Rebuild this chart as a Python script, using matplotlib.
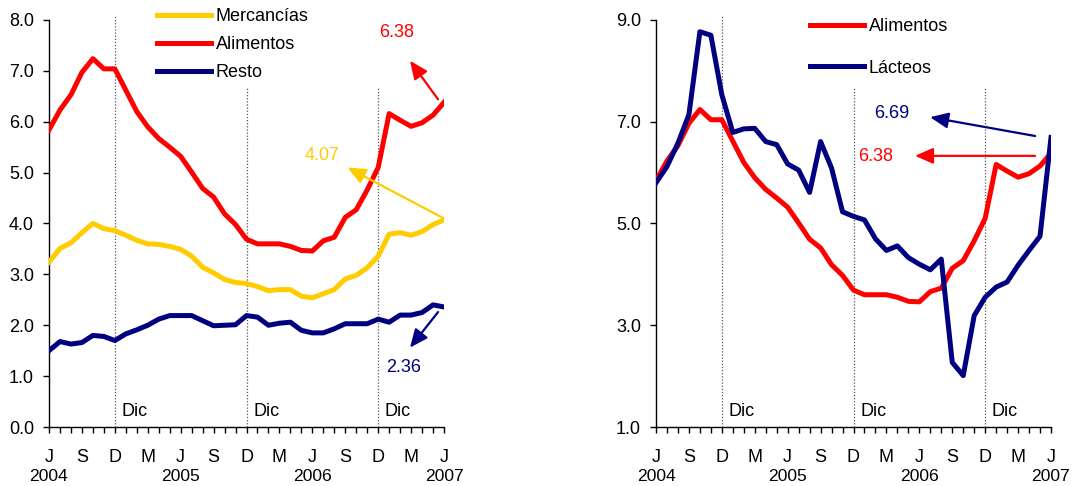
import numpy as np
import matplotlib
matplotlib.use("Agg")
import matplotlib.pyplot as plt
import matplotlib.transforms as mtransforms
from matplotlib.lines import Line2D
from matplotlib.ticker import FormatStrFormatter

plt.rcParams['font.family'] = ['Liberation Sans', 'DejaVu Sans']

# Monthly year-on-year inflation, June 2004 - June 2007
mercancias = [3.24, 3.51, 3.62, 3.82, 4.00, 3.90, 3.86, 3.77, 3.67, 3.60,
              3.59, 3.55, 3.49, 3.36, 3.14, 3.03, 2.90, 2.84, 2.82, 2.76,
              2.68, 2.70, 2.70, 2.57, 2.54, 2.62, 2.70, 2.91, 2.98, 3.13,
              3.36, 3.79, 3.82, 3.77, 3.84, 3.98, 4.07]
alimentos = [5.84, 6.23, 6.53, 6.97, 7.24, 7.04, 7.04, 6.62, 6.20, 5.90,
             5.67, 5.50, 5.32, 5.01, 4.69, 4.52, 4.19, 3.98, 3.69, 3.60,
             3.60, 3.60, 3.55, 3.47, 3.46, 3.66, 3.73, 4.12, 4.27, 4.66,
             5.10, 6.16, 6.03, 5.91, 5.98, 6.13, 6.38]
resto = [1.50, 1.68, 1.63, 1.66, 1.80, 1.78, 1.70, 1.83, 1.91, 2.00,
         2.12, 2.19, 2.19, 2.19, 2.09, 1.99, 2.00, 2.01, 2.19, 2.16,
         2.00, 2.04, 2.06, 1.90, 1.85, 1.85, 1.93, 2.03, 2.03, 2.03,
         2.12, 2.06, 2.20, 2.20, 2.25, 2.40, 2.36]
lacteos = [5.80, 6.12, 6.58, 7.14, 8.77, 8.70, 7.53, 6.79, 6.86, 6.87,
           6.61, 6.55, 6.17, 6.05, 5.61, 6.61, 6.09, 5.23, 5.14, 5.07,
           4.70, 4.47, 4.56, 4.33, 4.20, 4.09, 4.30, 2.27, 2.01, 3.19,
           3.55, 3.75, 3.85, 4.18, 4.47, 4.75, 6.69]

month_letters = ['J', 'S', 'D', 'M', 'J', 'S', 'D', 'M', 'J', 'S', 'D', 'M', 'J']
years = ['2004', '2005', '2006', '2007']
year_pos = [0, 12, 24, 36]
dec_pos = [6, 18, 30]
dec_label = 'Dic'

YELLOW = '#FFCC00'
RED = '#FF0000'
NAVY = '#000080'
FS = 13
LW = 3.6

months = np.arange(len(alimentos))

W, H = 1073, 486
fig = plt.figure(figsize=(W / 100, H / 100), dpi=100)
ax1 = fig.add_axes([49 / W, 59 / H, 395 / W, 407 / H])
ax2 = fig.add_axes([656 / W, 59 / H, 395 / W, 407 / H])


def setup(ax, ylim, yticks):
    ax.set_xlim(0, 36)
    ax.set_ylim(*ylim)
    for s in ['top', 'right']:
        ax.spines[s].set_visible(False)
    for s in ['left', 'bottom']:
        ax.spines[s].set_linewidth(1.0)
    ax.set_xticks(np.arange(0, 37, 3), month_letters)
    ax.set_xticks(months, minor=True)
    ax.set_yticks(yticks)
    ax.yaxis.set_major_formatter(FormatStrFormatter('%.1f'))
    ax.tick_params(axis='x', which='both', length=4, width=1, pad=12, labelsize=FS)
    ax.tick_params(axis='y', which='both', length=4.3, width=1, pad=6.5, labelsize=FS)
    trans = mtransforms.blended_transform_factory(ax.transData, ax.transAxes)
    for xp, yl in zip(year_pos, years):
        ax.text(xp, -0.122, yl, transform=trans, ha='center', va='center', fontsize=12.6)
    for i, xp in enumerate(dec_pos):
        top = 1.01 if i == 0 else 0.833
        ax.plot([xp, xp], [0, top], transform=trans, color='#555555', lw=0.9,
                ls=(0, (1, 1.5)), clip_on=False, zorder=1)
        ax.text(xp + 0.6, 0.037, dec_label, transform=trans, ha='left', va='center',
                fontsize=FS)


def arrow(ax, start, tip, color):
    ax.annotate('', xy=tip, xytext=start,
                arrowprops=dict(arrowstyle='-|>,head_length=0.55,head_width=0.24',
                                color=color, lw=1.6, mutation_scale=20,
                                shrinkA=0, shrinkB=0), annotation_clip=False)


# Left panel
setup(ax1, (0, 8), np.arange(0, 8.1, 1.0))
ax1.plot(months, mercancias, color=YELLOW, lw=LW, zorder=3)
ax1.plot(months, alimentos, color=RED, lw=LW, zorder=3)
ax1.plot(months, resto, color=NAVY, lw=LW, zorder=3)

arrow(ax1, (35.46, 6.44), (32.9, 7.2), RED)
ax1.text(31.7, 7.76, f'{alimentos[-1]:.2f}', color=RED, fontsize=FS, ha='center', va='center')
arrow(ax1, (35.9, 4.11), (27.2, 5.1), YELLOW)
ax1.text(24.9, 5.33, f'{mercancias[-1]:.2f}', color=YELLOW, fontsize=FS, ha='center', va='center')
arrow(ax1, (35.46, 2.26), (32.9, 1.56), NAVY)
ax1.text(32.3, 1.16, f'{resto[-1]:.2f}', color=NAVY, fontsize=FS, ha='center', va='center')

h1 = [Line2D([], [], color=YELLOW, lw=LW),
      Line2D([], [], color=RED, lw=LW),
      Line2D([], [], color=NAVY, lw=LW)]
fig.legend(h1, ['Mercancías', 'Alimentos', 'Resto'], loc='upper left',
           bbox_to_anchor=(157 / W, 1 - 8 / H), bbox_transform=fig.transFigure,
           frameon=False, fontsize=FS, handlelength=3.0, handletextpad=0.25,
           labelspacing=0.61, borderpad=0, borderaxespad=0)

# Right panel
setup(ax2, (1, 9), np.arange(1, 9.1, 2.0))
ax2.plot(months, alimentos, color=RED, lw=LW, zorder=3)
ax2.plot(months, lacteos, color=NAVY, lw=LW, zorder=3)

arrow(ax2, (34.55, 6.72), (24.98, 7.09), NAVY)
ax2.text(21.5, 7.17, f'{lacteos[-1]:.2f}', color=NAVY, fontsize=FS, ha='center', va='center')
arrow(ax2, (34.55, 6.33), (23.6, 6.33), RED)
ax2.text(20.05, 6.31, f'{alimentos[-1]:.2f}', color=RED, fontsize=FS, ha='center', va='center')

h2 = [Line2D([], [], color=RED, lw=LW),
      Line2D([], [], color=NAVY, lw=LW)]
fig.legend(h2, ['Alimentos', 'Lácteos'], loc='upper left',
           bbox_to_anchor=(810 / W, 1 - 18 / H), bbox_transform=fig.transFigure,
           frameon=False, fontsize=FS, handlelength=3.0, handletextpad=0.25,
           labelspacing=1.36, borderpad=0, borderaxespad=0)

fig.savefig('out.png', dpi=100)
